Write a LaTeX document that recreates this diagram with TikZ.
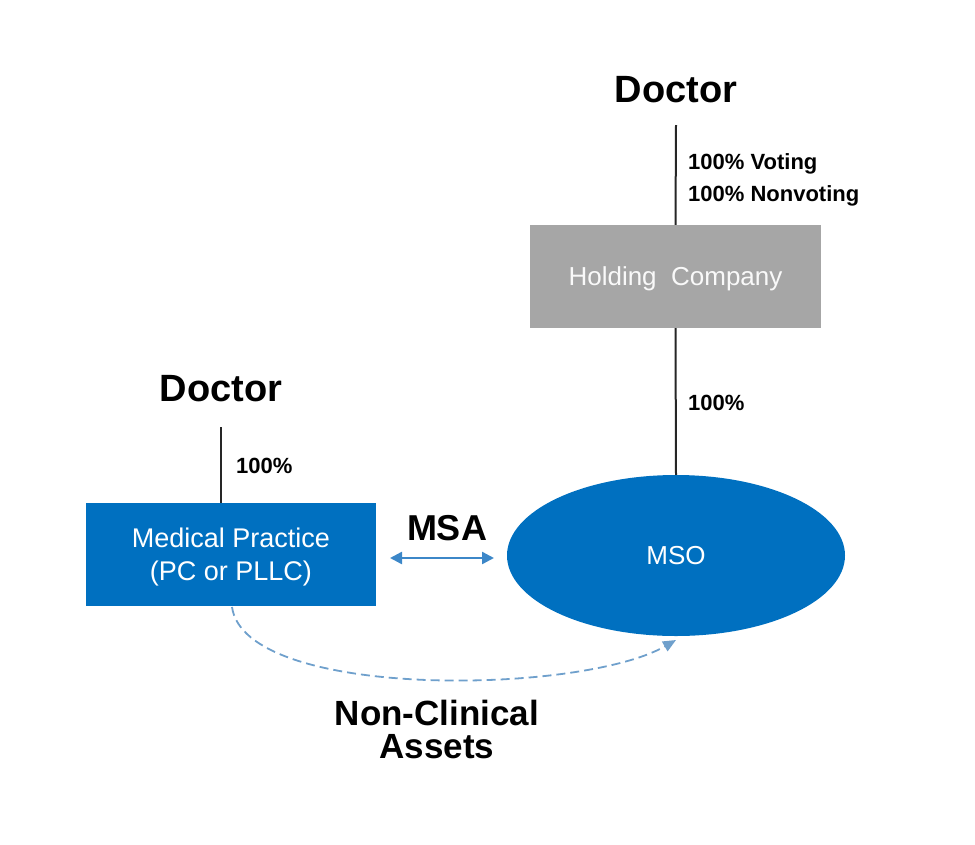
\documentclass[tikz,border=0pt]{standalone}
\usepackage{fontspec}
\setmainfont{Liberation Sans}
\usetikzlibrary{arrows.meta,shapes.geometric}
\definecolor{mblue}{HTML}{0070C0}
\definecolor{lblue}{HTML}{3C87C8}
\definecolor{dblue}{HTML}{6FA0CC}
\definecolor{hgray}{HTML}{A6A6A6}
\begin{document}
\begin{tikzpicture}[x=1pt,y=-1pt,
  head/.style={font=\fontsize{38}{40}\selectfont\bfseries, inner sep=0pt},
  pct/.style={font=\fontsize{22}{32}\selectfont\bfseries, anchor=west, inner sep=0pt, align=left},
  box/.style={draw=none, minimum width=#1, minimum height=103, inner sep=0pt},
  boxtext/.style={inner sep=0pt, text=white, font=\fontsize{27}{33}\selectfont, align=center},
  link/.style={line width=2pt, draw=black!85}
]
\useasboundingbox (0,0) rectangle (975,844);
\node[head] (doc1) at (676,90) {Doctor};
\node[box=291, fill=hgray] (hold) at (675.5,276.5) {};
\node[boxtext, text=white!95!gray, font=\fontsize{26}{30}\selectfont] (holdt) at ([yshift=-2pt]hold.center) {Holding\ \ Company};
\coordinate (d1end) at (676,125);
\draw[link] (d1end) -- (hold.north);
\node[pct] (l1) at (688,180) {100\% Voting\\100\% Nonvoting};
\node[ellipse, fill=mblue, minimum width=338, minimum height=161, inner sep=0pt, text=white, font=\fontsize{26}{30}\selectfont] (mso) at (676,555.5) {MSO};
\draw[link] (hold.south) -- (mso.north);
\node[pct] (l2) at (688,403) {100\%};
\node[head] (doc2) at (221,389) {Doctor};
\node[box=290, fill=mblue] (mp) at (231,554.5) {};
\node[boxtext] (mpt) at ([yshift=-2.5pt]mp.center) {Medical Practice\\(PC or PLLC)};
\coordinate (d2end) at (221,427);
\draw[link] (d2end) -- (mp.north -| d2end);
\node[pct] (l3) at (236,466) {100\%};
\node[head, font=\fontsize{36}{40}\selectfont\bfseries] (msa) at (447,528) {MSA};
\coordinate (a1) at (390,558);
\coordinate (a2) at (494,558);
\draw[lblue, line width=2.4pt, {Triangle[length=12pt,width=12pt]}-{Triangle[length=12pt,width=12pt]}] (a1) -- (a2);
\coordinate (c1) at (232,607);
\coordinate (c2) at (676,640);
\draw[dblue, line width=1.8pt, dash pattern=on 9pt off 5pt, -{Triangle[length=13pt,width=11pt]}] (c1) .. controls (245,700) and (580,695) .. (c2);
\node[head, align=center, font=\fontsize{35}{33}\selectfont\bfseries] (nca) at (437,729) {Non-Clinical\\Assets};
\end{tikzpicture}
\end{document}
